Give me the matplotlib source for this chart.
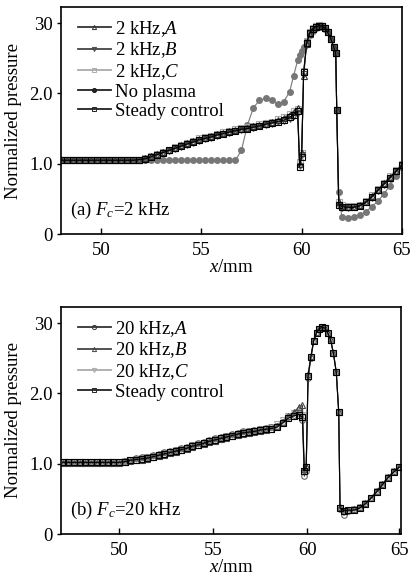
import matplotlib
matplotlib.use("Agg")
import matplotlib.pyplot as plt
from matplotlib.lines import Line2D

plt.rcParams['font.family'] = ['Liberation Serif', 'DejaVu Serif']
plt.rcParams['mathtext.fontset'] = 'custom'
plt.rcParams['mathtext.rm'] = 'Liberation Serif'
plt.rcParams['mathtext.it'] = 'Liberation Serif:italic'

# ---------------- panel (a): Fc = 2 kHz ----------------
x_top = [48.0, 48.3, 48.6, 48.9, 49.2, 49.5, 49.8, 50.1, 50.4, 50.7, 51.0, 51.3, 51.6, 51.9,
         52.2, 52.5, 52.8, 53.1, 53.4, 53.7, 54.0, 54.3, 54.6, 54.9, 55.2, 55.5, 55.8, 56.1,
         56.4, 56.7, 57.0, 57.3, 57.6, 57.9, 58.2, 58.5, 58.8, 59.1, 59.4,
         59.6, 59.8,
         59.9, 60.0, 60.1, 60.25, 60.4, 60.55, 60.7, 60.85, 61.0, 61.15, 61.3, 61.45, 61.6,
         61.7, 61.75, 61.85,
         62.0, 62.3, 62.6, 62.9, 63.2, 63.5, 63.8, 64.1, 64.4, 64.7, 65.0]

top_A = [1.05, 1.05, 1.05, 1.05, 1.05, 1.05, 1.05, 1.05, 1.05, 1.05, 1.05, 1.05, 1.05, 1.06,
         1.08, 1.11, 1.14, 1.17, 1.20, 1.23, 1.26, 1.29, 1.32, 1.35, 1.37, 1.39, 1.42, 1.44,
         1.46, 1.48, 1.50, 1.51, 1.53, 1.55, 1.57, 1.59, 1.62, 1.65, 1.70,
         1.74, 1.80,
         1.00, 1.15, 2.25, 2.70, 2.85, 2.92, 2.95, 2.96, 2.96, 2.93, 2.87, 2.78, 2.66,
         2.57, 1.76, 0.45,
         0.40, 0.39, 0.39, 0.41, 0.46, 0.54, 0.63, 0.72, 0.81, 0.90, 0.98]

top_B = [1.05, 1.05, 1.05, 1.05, 1.05, 1.05, 1.05, 1.05, 1.05, 1.05, 1.05, 1.05, 1.05, 1.05,
         1.06, 1.09, 1.12, 1.15, 1.18, 1.21, 1.24, 1.27, 1.30, 1.33, 1.35, 1.37, 1.40, 1.42,
         1.44, 1.46, 1.48, 1.49, 1.51, 1.53, 1.55, 1.57, 1.59, 1.61, 1.64,
         1.68, 1.72,
         0.97, 1.12, 2.28, 2.71, 2.85, 2.92, 2.95, 2.96, 2.96, 2.93, 2.87, 2.78, 2.66,
         2.57, 1.76, 0.40,
         0.37, 0.37, 0.38, 0.40, 0.45, 0.52, 0.61, 0.70, 0.79, 0.88, 0.97]

top_C = [1.06, 1.06, 1.06, 1.06, 1.06, 1.06, 1.06, 1.06, 1.06, 1.06, 1.06, 1.06, 1.06, 1.06,
         1.08, 1.11, 1.14, 1.17, 1.20, 1.24, 1.27, 1.30, 1.33, 1.36, 1.38, 1.40, 1.43, 1.45,
         1.47, 1.49, 1.51, 1.52, 1.54, 1.56, 1.58, 1.60, 1.63, 1.66, 1.71,
         1.75, 1.78,
         1.02, 1.15, 2.32, 2.74, 2.87, 2.93, 2.96, 2.97, 2.96, 2.93, 2.87, 2.78, 2.66,
         2.57, 1.76, 0.45,
         0.41, 0.40, 0.40, 0.42, 0.47, 0.55, 0.64, 0.73, 0.82, 0.91, 0.99]

top_noplasma = [1.05, 1.05, 1.05, 1.05, 1.05, 1.05, 1.05, 1.05, 1.05, 1.05, 1.05, 1.05, 1.05, 1.05,
                1.05, 1.05, 1.05, 1.05, 1.05, 1.05, 1.05, 1.05, 1.05, 1.05, 1.05, 1.05, 1.05, 1.05,
                1.05, 1.05, 1.19, 1.55, 1.80, 1.90, 1.93, 1.90, 1.85, 1.88, 2.02,
                2.25, 2.47,
                2.55, 2.60, 2.66, 2.75, 2.83, 2.89, 2.93, 2.95, 2.95, 2.92, 2.87, 2.78, 2.66,
                2.57, 1.76, 0.60,
                0.25, 0.23, 0.24, 0.27, 0.32, 0.39, 0.47, 0.57, 0.69, 0.82, 0.95]

top_steady = [1.05, 1.05, 1.05, 1.05, 1.05, 1.05, 1.05, 1.05, 1.05, 1.05, 1.05, 1.05, 1.05, 1.06,
              1.07, 1.10, 1.13, 1.16, 1.19, 1.22, 1.25, 1.28, 1.31, 1.34, 1.36, 1.38, 1.41, 1.43,
              1.45, 1.47, 1.49, 1.50, 1.52, 1.54, 1.56, 1.58, 1.60, 1.62, 1.66,
              1.70, 1.75,
              0.95, 1.10, 2.30, 2.72, 2.86, 2.92, 2.95, 2.96, 2.96, 2.93, 2.87, 2.78, 2.66,
              2.57, 1.76, 0.42,
              0.39, 0.38, 0.38, 0.40, 0.45, 0.53, 0.62, 0.71, 0.80, 0.89, 0.98]

# ---------------- panel (b): Fc = 20 kHz ----------------
x_bot = [47.0, 47.3, 47.6, 47.9, 48.2, 48.5, 48.8, 49.1, 49.4, 49.7, 50.0,
         50.3, 50.6, 50.9, 51.2, 51.5, 51.8, 52.1, 52.4, 52.7, 53.0, 53.3, 53.6, 53.9, 54.2,
         54.5, 54.8, 55.1, 55.4, 55.7, 56.0, 56.3, 56.6, 56.9, 57.2, 57.5, 57.8, 58.1, 58.4,
         58.7, 59.0, 59.3,
         59.55, 59.75, 59.85, 59.95, 60.05, 60.2, 60.35, 60.5, 60.65, 60.8, 60.95, 61.1,
         61.25, 61.4, 61.55, 61.68, 61.75, 61.95,
         62.2, 62.5, 62.8, 63.1, 63.4, 63.7, 64.0, 64.3, 64.6, 64.9]

bot_A = [1.02, 1.02, 1.02, 1.02, 1.02, 1.02, 1.02, 1.02, 1.02, 1.02, 1.02,
         1.04, 1.06, 1.08, 1.09, 1.10, 1.12, 1.14, 1.16, 1.18, 1.20, 1.22, 1.24, 1.27, 1.29,
         1.31, 1.34, 1.36, 1.38, 1.40, 1.42, 1.44, 1.46, 1.47, 1.48, 1.50, 1.51, 1.52, 1.54,
         1.60, 1.67, 1.70,
         1.72, 1.62, 0.82, 0.90, 2.22, 2.50, 2.74, 2.86, 2.92, 2.94, 2.93, 2.86,
         2.76, 2.57, 2.30, 1.74, 0.36, 0.27,
         0.33, 0.34, 0.37, 0.43, 0.51, 0.60, 0.70, 0.80, 0.88, 0.95]

bot_B = [1.01, 1.01, 1.01, 1.01, 1.01, 1.01, 1.01, 1.01, 1.01, 1.01, 1.01,
         1.02, 1.04, 1.05, 1.06, 1.07, 1.09, 1.11, 1.13, 1.15, 1.17, 1.19, 1.21, 1.24, 1.26,
         1.28, 1.31, 1.33, 1.35, 1.37, 1.39, 1.41, 1.43, 1.44, 1.45, 1.47, 1.48, 1.50, 1.53,
         1.60, 1.68, 1.74,
         1.80, 1.83, 0.92, 0.97, 2.27, 2.53, 2.76, 2.87, 2.92, 2.94, 2.93, 2.86,
         2.76, 2.57, 2.30, 1.74, 0.38, 0.33,
         0.34, 0.35, 0.38, 0.44, 0.52, 0.61, 0.71, 0.81, 0.89, 0.96]

bot_C = [1.03, 1.03, 1.03, 1.03, 1.03, 1.03, 1.03, 1.03, 1.03, 1.03, 1.03,
         1.04, 1.06, 1.07, 1.08, 1.09, 1.11, 1.13, 1.15, 1.17, 1.19, 1.21, 1.23, 1.26, 1.28,
         1.30, 1.33, 1.35, 1.37, 1.39, 1.41, 1.43, 1.45, 1.46, 1.47, 1.49, 1.50, 1.52, 1.56,
         1.62, 1.68, 1.72,
         1.74, 1.70, 0.88, 0.93, 2.24, 2.51, 2.75, 2.86, 2.92, 2.94, 2.93, 2.86,
         2.76, 2.57, 2.30, 1.74, 0.37, 0.32,
         0.33, 0.35, 0.38, 0.44, 0.52, 0.61, 0.71, 0.81, 0.89, 0.96]

bot_steady = [1.02, 1.02, 1.02, 1.02, 1.02, 1.02, 1.02, 1.02, 1.02, 1.02, 1.02,
              1.03, 1.05, 1.06, 1.07, 1.08, 1.10, 1.12, 1.14, 1.16, 1.18, 1.20, 1.22, 1.25, 1.27,
              1.29, 1.32, 1.34, 1.36, 1.38, 1.40, 1.42, 1.44, 1.45, 1.46, 1.48, 1.49, 1.50, 1.52,
              1.58, 1.65, 1.68,
              1.70, 1.66, 0.90, 0.95, 2.25, 2.52, 2.75, 2.86, 2.92, 2.94, 2.93, 2.86,
              2.76, 2.57, 2.30, 1.74, 0.37, 0.33,
              0.34, 0.34, 0.37, 0.43, 0.51, 0.60, 0.70, 0.80, 0.88, 0.95]

yticks = [0, 1.0, 2.0, 3.0]
ytick_labels = ["0", "1.0", "2.0", "30"]
xticks = [50, 55, 60, 65]

FS = 13.5

fig = plt.figure(figsize=(4.11, 5.78), dpi=100)
ax1 = fig.add_axes([0.148, 0.595, 0.830, 0.393])
ax2 = fig.add_axes([0.148, 0.076, 0.828, 0.393])

ms = 4
mew = 0.8
lw = 0.8

def style(ax, xlim):
    ax.set_xlim(*xlim)
    ax.set_ylim(0, 3.23)
    ax.set_yticks(yticks)
    ax.set_yticklabels(ytick_labels)
    ax.set_xticks(xticks)
    ax.tick_params(axis='x', direction='in', length=4, width=1, pad=6, labelsize=FS)
    ax.tick_params(axis='y', direction='out', length=3, width=1, pad=3, labelsize=FS)
    for s in ax.spines.values():
        s.set_linewidth(1.2)
    ax.set_ylabel("Normalized pressure", fontsize=FS, labelpad=5)
    ax.set_xlabel("$x$/mm", fontsize=FS, labelpad=0)

# panel a
ax1.plot(x_top, top_noplasma, '-', color='#777777', lw=lw, marker='o', ms=ms,
         mfc='#777777', mec='#777777')
ax1.plot(x_top, top_C, '-', color='#aaaaaa', lw=lw, marker='s', ms=ms, mfc='none',
         mec='#aaaaaa', mew=mew)
ax1.plot(x_top, top_B, '-', color='#555555', lw=lw, marker='v', ms=ms, mfc='none',
         mec='#555555', mew=mew)
ax1.plot(x_top, top_A, '-', color='#333333', lw=lw, marker='^', ms=ms, mfc='none',
         mec='#333333', mew=mew)
ax1.plot(x_top, top_steady, '-', color='black', lw=lw, marker='s', ms=ms, mfc='none',
         mec='black', mew=mew)

h_a = [
    Line2D([], [], color='#333333', lw=1.3, marker='^', ms=3, mfc='none', mew=0.7),
    Line2D([], [], color='#444444', lw=1.3, marker='v', ms=3, mfc='none', mew=0.7),
    Line2D([], [], color='#aaaaaa', lw=1.3, marker='s', ms=3, mfc='none', mew=0.7),
    Line2D([], [], color='#222222', lw=1.3, marker='o', ms=3, mfc='#222222', mew=0.7),
    Line2D([], [], color='#222222', lw=1.3, marker='s', ms=3, mfc='none', mew=0.7),
]
l_a = ["2 kHz,$A$", "2 kHz,$B$", "2 kHz,$C$", "No plasma", "Steady control"]
ax1.legend(h_a, l_a, loc='upper left', bbox_to_anchor=(0.05, 0.948), frameon=False,
           fontsize=FS, handlelength=1.75, handletextpad=0.25, labelspacing=0.1,
           borderaxespad=0, borderpad=0)
ax1.text(0.027, 0.105, "(a) $F_c$=2 kHz", transform=ax1.transAxes, fontsize=FS,
         ha='left', va='center')
style(ax1, (48, 65))

# panel b
ax2.plot(x_bot, bot_C, '-', color='#aaaaaa', lw=lw, marker='v', ms=ms, mfc='none',
         mec='#aaaaaa', mew=mew)
ax2.plot(x_bot, bot_B, '-', color='#444444', lw=lw, marker='^', ms=ms, mfc='none',
         mec='#444444', mew=mew)
ax2.plot(x_bot, bot_A, '-', color='#555555', lw=lw, marker='o', ms=ms, mfc='none',
         mec='#666666', mew=mew)
ax2.plot(x_bot, bot_steady, '-', color='black', lw=lw, marker='s', ms=ms, mfc='none',
         mec='black', mew=mew)

h_b = [
    Line2D([], [], color='#333333', lw=1.3, marker='o', ms=3, mfc='none', mew=0.7),
    Line2D([], [], color='#444444', lw=1.3, marker='^', ms=3, mfc='none', mew=0.7),
    Line2D([], [], color='#aaaaaa', lw=1.3, marker='v', ms=3, mfc='none', mew=0.7),
    Line2D([], [], color='#222222', lw=1.3, marker='s', ms=3, mfc='none', mew=0.7),
]
l_b = ["20 kHz,$A$", "20 kHz,$B$", "20 kHz,$C$", "Steady control"]
ax2.legend(h_b, l_b, loc='upper left', bbox_to_anchor=(0.05, 0.948), frameon=False,
           fontsize=FS, handlelength=1.75, handletextpad=0.25, labelspacing=0.1,
           borderaxespad=0, borderpad=0)
ax2.text(0.027, 0.105, "(b) $F_c$=20 kHz", transform=ax2.transAxes, fontsize=FS,
         ha='left', va='center')
style(ax2, (46.9, 64.9))
ax2.set_xticks([50, 55, 60, 64.9])
ax2.set_xticklabels(["50", "55", "60", "65"])

fig.savefig("out.png", dpi=100)
